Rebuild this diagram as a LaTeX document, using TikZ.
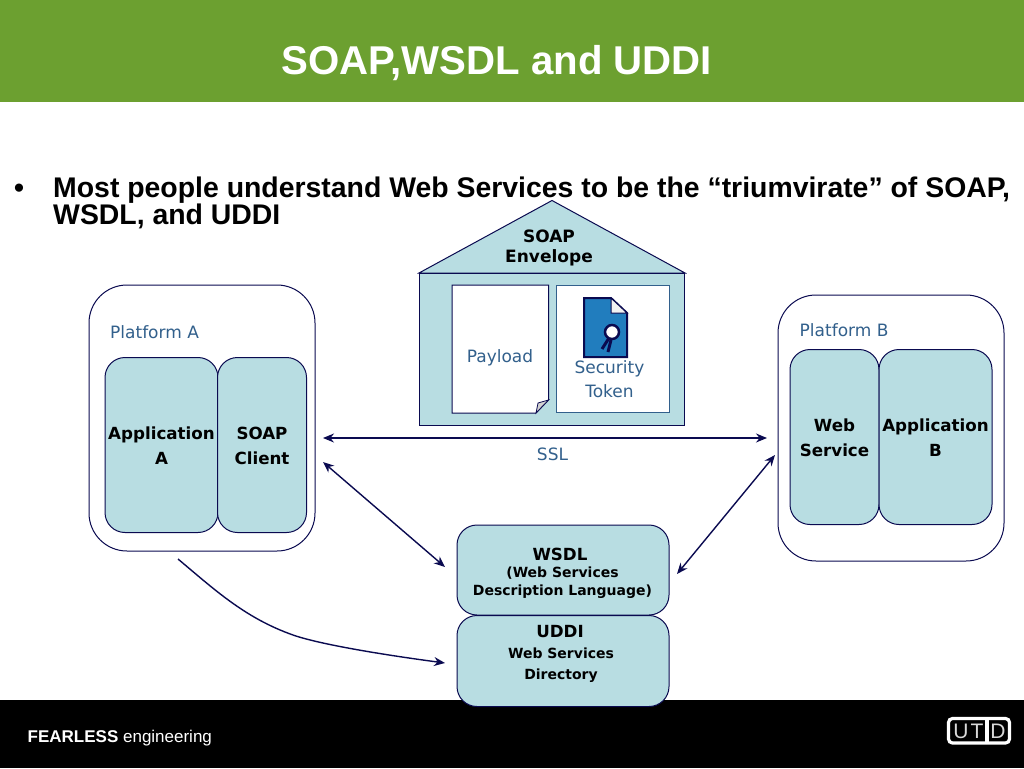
\documentclass[tikz,border=0pt]{standalone}
\usepackage{fontspec}
\setmainfont{Liberation Sans}
\newfontfamily\djfont{DejaVu Sans}
\usetikzlibrary{arrows.meta}
\definecolor{band}{RGB}{108,160,48}
\definecolor{pale}{RGB}{184,221,226}
\definecolor{navy}{RGB}{10,10,80}
\definecolor{lab}{RGB}{50,96,140}
\definecolor{seal}{RGB}{33,125,190}
\tikzset{
 x=1pt,y=-1pt,
 tbox/.style={draw=navy,line width=1pt,fill=pale,rounded corners=20pt,inner sep=0pt},
 tlabel/.style={inner sep=0pt,align=center,font=\djfont\bfseries\fontsize{16.7}{25}\selectfont,text=black},
 platform/.style={draw=navy,line width=1pt,fill=white,rounded corners=38pt,inner sep=0pt},
 plabel/.style={font=\djfont\fontsize{17}{24}\selectfont,text=lab,align=center,inner sep=0pt},
 link/.style={draw=navy,line width=1.4pt,{Stealth[length=11pt,width=9pt]}-{Stealth[length=11pt,width=9pt]}},
 flow/.style={draw=navy,line width=1.4pt,-{Stealth[length=11pt,width=9pt]}},
 sq/.style={draw=navy,line width=1pt,inner sep=0pt},
 bullettext/.style={font=\bfseries\fontsize{28.4}{28}\selectfont,anchor=base west,inner sep=0pt},
}
\begin{document}
\begin{tikzpicture}
\useasboundingbox (0,0) rectangle (1024,768);
\fill[white] (0,0) rectangle (1024,768);
\fill[band] (0,0) rectangle (1024,102);
\fill[black] (0,700) rectangle (1024,768);
\node[font=\bfseries\fontsize{40.2}{40}\selectfont,text=white,inner sep=0pt] (title) at (497,63) {SOAP,WSDL and UDDI};
\node[bullettext] (bul) at (14,197) {•};
\node[bullettext] (l1) at (53,197) {Most people understand Web Services to be the “triumvirate” of SOAP,};
\node[bullettext] (l2) at (53,224) {WSDL, and UDDI};
\node[font=\bfseries\fontsize{17}{17}\selectfont,text=white,anchor=base west,inner sep=0pt] (fe) at (27.5,742) {FEARLESS \mdseries engineering};
% UTD logo
\draw[white,line width=3.2pt,rounded corners=4pt] (948.5,718.5) rectangle (1009.5,743);
\draw[white,line width=3.2pt] (987,718) -- (987,743);
\node[font=\fontsize{21}{21}\selectfont,text=white!85!black,inner sep=0pt] (utdu) at (961,731) {U};
\node[font=\fontsize{21}{21}\selectfont,text=white!85!black,inner sep=0pt] (utdt) at (977,731) {T};
\node[font=\fontsize{21}{21}\selectfont,text=white!85!black,inner sep=0pt] (utdd) at (998,731) {D};
% Platform A
\node[platform,minimum width=226pt,minimum height=266pt] (pa) at (202,418) {};
\node[plabel,anchor=base west] (pal) at (110,338.5) {Platform A};
\node[tbox,minimum width=113pt,minimum height=175pt] (appa) at (161.5,445) {};
\node[tlabel] (appal) at (161.5,446) {Application\\A};
\node[tbox,minimum width=89pt,minimum height=175pt] (cli) at (262,445) {};
\node[tlabel] (clil) at (262,446) {SOAP\\Client};
% Platform B
\node[platform,minimum width=226pt,minimum height=266pt] (pb) at (891,428) {};
\node[plabel,anchor=base west] (pbl) at (799.5,336.5) {Platform B};
\node[tbox,minimum width=89pt,minimum height=175pt] (ws) at (834.5,437) {};
\node[tlabel] (wsl) at (834.5,438) {Web\\Service};
\node[tbox,minimum width=113pt,minimum height=175pt] (appb) at (935.5,437) {};
\node[tlabel] (appbl) at (935.5,438) {Application\\B};
% Envelope
\draw[sq,fill=pale] (419,273) -- (552,200.5) -- (685,273) -- cycle;
\node[sq,fill=pale,minimum width=265pt,minimum height=152pt] (env) at (551.5,349.5) {};
\node[font=\djfont\bfseries\fontsize{17}{20}\selectfont,align=center,inner sep=0pt] (envl) at (549,248) {SOAP\\Envelope};
\draw[sq,fill=white] (452,285) -- (548.5,285) -- (548.5,400) -- (536,413) -- (452,413) -- cycle;
\draw[navy,fill=gray!35,line width=.8pt] (548.5,400) -- (536,413) -- (538,403) -- cycle;
\node[plabel] (payl) at (500,358) {Payload};
\node[draw=lab,line width=1pt,fill=white,minimum width=113pt,minimum height=127.5pt,inner sep=0pt] (tok) at (612.5,349) {};
\draw[navy,line width=2pt,fill=seal] (584,298) -- (611,298) -- (627,313) -- (627,357) -- (584,357) -- cycle;
\draw[navy,line width=1pt,fill=white!90!gray] (611,298) -- (627,313) -- (611,313) -- cycle;
\draw[navy,line width=3pt] (609,338) -- (602,349);
\draw[navy,line width=3pt] (611,340) -- (608,352);
\draw[navy,fill=white,line width=2.5pt] (612,332) circle (7pt);
\node[plabel] (secl) at (609.5,379) {Security\\Token};
% WSDL / UDDI
\node[tbox,minimum width=212pt,minimum height=90pt] (wsdl) at (563,570) {};
\node[font=\djfont\bfseries\fontsize{16.7}{17}\selectfont,inner sep=0pt] (wsdl1) at (560,554) {WSDL};
\node[font=\djfont\bfseries\fontsize{14}{18}\selectfont,align=center,inner sep=0pt] (wsdl2) at (562.5,583) {(Web Services\\Description Language)};
\node[tbox,minimum width=212pt,minimum height=91pt] (uddi) at (563,661) {};
\node[font=\djfont\bfseries\fontsize{16.7}{17}\selectfont,inner sep=0pt] (uddi1) at (560,632) {UDDI};
\node[font=\djfont\bfseries\fontsize{14}{21}\selectfont,align=center,inner sep=0pt] (uddi2) at (561,665) {Web Services\\Directory};
% connectors
\coordinate (s1) at (323,438); \coordinate (e1) at (767,438);
\coordinate (s2) at (323,462); \coordinate (e2) at (445,567);
\coordinate (s3) at (775,455); \coordinate (e3) at (677,574);
\coordinate (s4) at (178,559); \coordinate (e4) at (445,663);
\draw[link] (s1) -- (e1);
\draw[link] (s2) -- (e2);
\draw[link] (s3) -- (e3);
\draw[flow] (s4) .. controls (215,590) and (245,618) .. (293,635) .. controls (320,644.5) and (385,655) .. (e4);
\node[plabel] (ssl) at (552.5,454) {SSL};
\end{tikzpicture}
\end{document}
